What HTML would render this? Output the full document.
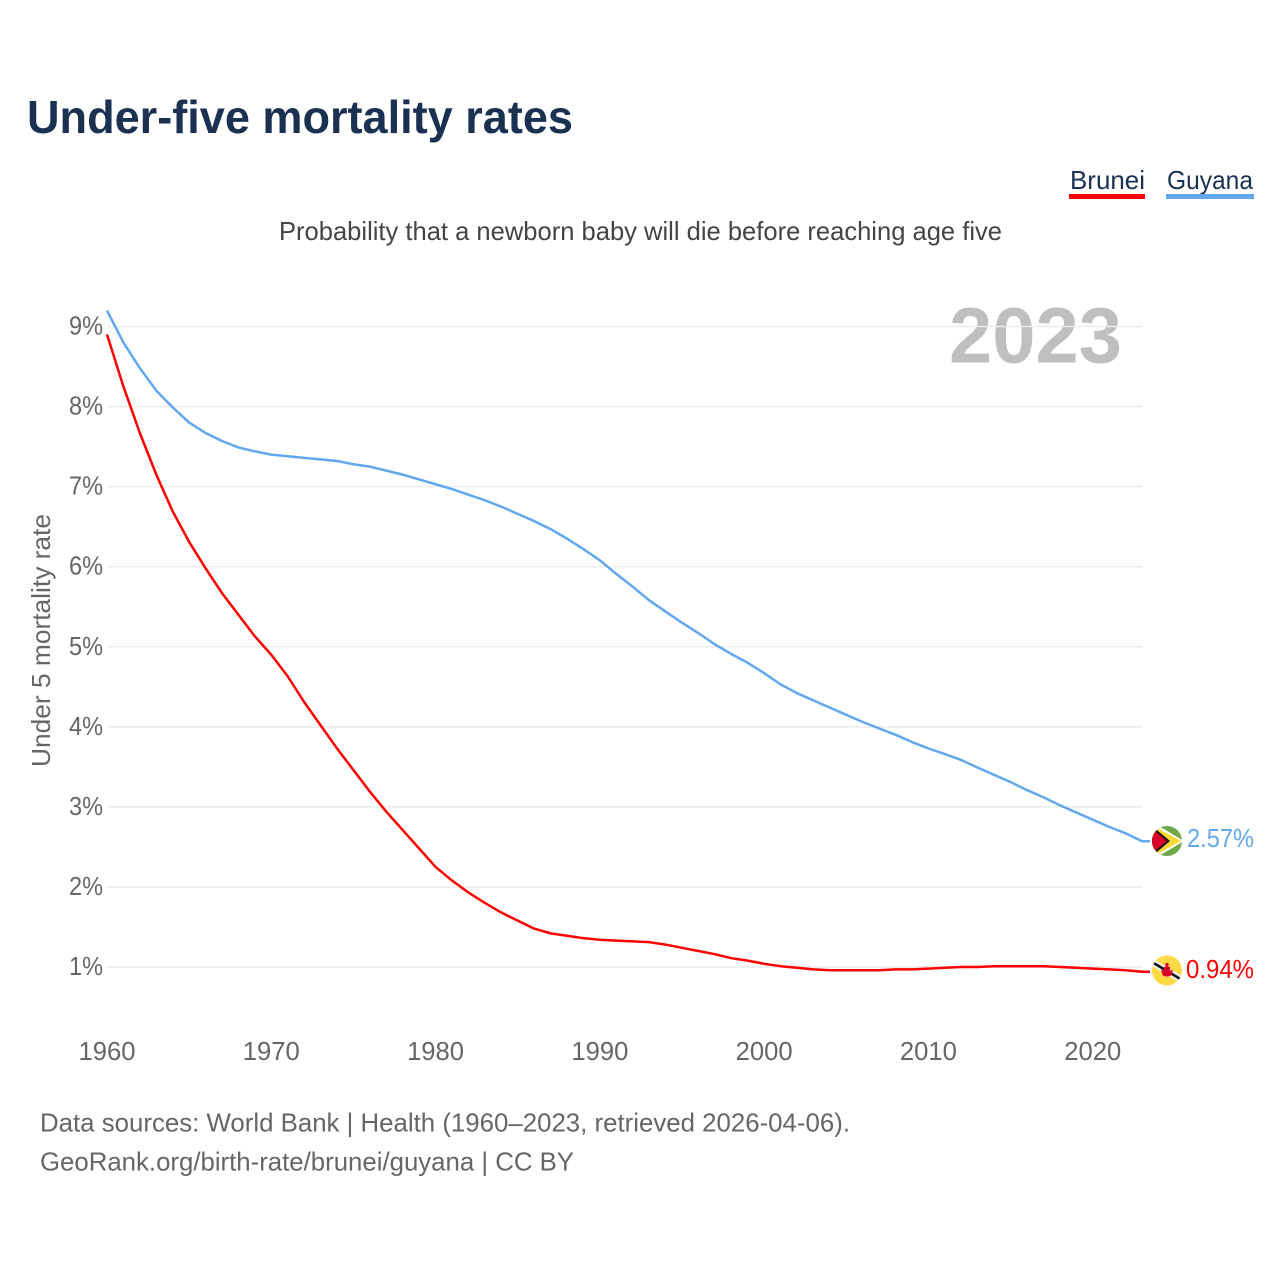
<!DOCTYPE html>
<html lang="en">
<head>
<meta charset="utf-8">
<title>Under-five mortality rates</title>
<style>
html,body{margin:0;padding:0;background:#fff;width:1280px;height:1280px;overflow:hidden}
svg{display:block}
text{font-family:"Liberation Sans",sans-serif}
</style>
</head>
<body>
<svg id="chart" width="1280" height="1280" viewBox="0 0 1280 1280" xmlns="http://www.w3.org/2000/svg">
<defs>
<clipPath id="flag-clip-g"><circle cx="1167" cy="841" r="15"/></clipPath>
<clipPath id="flag-clip-b"><circle cx="1167" cy="970.5" r="15"/></clipPath>
</defs>
<text x="27" y="133" font-size="46" font-weight="700" fill="#1a3152" textLength="546" lengthAdjust="spacingAndGlyphs">Under-five mortality rates</text>
<g>
<text x="1070" y="189" font-size="26" fill="#1a3152" textLength="75" lengthAdjust="spacingAndGlyphs">Brunei</text>
<rect x="1069" y="194" width="76" height="5" fill="#ff0000"/>
</g>
<g>
<text x="1167" y="189" font-size="26" fill="#1a3152" textLength="86" lengthAdjust="spacingAndGlyphs">Guyana</text>
<rect x="1166" y="194" width="88" height="5" fill="#62a8ef"/>
</g>
<text x="279" y="240" font-size="26" fill="#444" textLength="723" lengthAdjust="spacingAndGlyphs">Probability that a newborn baby will die before reaching age five</text>
<text x="949" y="362.5" font-size="79" font-weight="700" fill="#000" fill-opacity="0.25" textLength="173" lengthAdjust="spacingAndGlyphs">2023</text>
<g id="grid"></g>
<g id="y-ticks"></g>
<g id="x-ticks"></g>
<text transform="translate(50,767) rotate(-90)" font-size="26" fill="#666" textLength="253" lengthAdjust="spacingAndGlyphs">Under 5 mortality rate</text>
<g id="series"></g>
<g clip-path="url(#flag-clip-g)">
<rect x="1152" y="826" width="30" height="30" fill="#6fa84a"/>
<polygon points="1152,822 1184,841 1152,860" fill="#fff"/>
<polygon points="1152,825 1181,841 1152,857" fill="#fdd835"/>
<polygon points="1152,826 1170,841 1152,856" fill="#111"/>
<polygon points="1150,827 1167,841 1150,855" fill="#d80027"/>
</g>
<g clip-path="url(#flag-clip-b)">
<rect x="1152" y="955" width="30" height="31" fill="#ffda44"/>
<polygon points="1152,958 1182,976 1182,984 1152,966" fill="#f0f0f0"/>
<polygon points="1152,960.5 1182,978.5 1182,981.5 1152,963.5" fill="#111"/>
<path d="M1165.5 963h3v4h1.5v4l3-1.5-1.5 5.5c-2 2-7 2-9 0l-1.5-5.5 3 1.5v-4h1.5z" fill="#d80027"/>
</g>
<text x="1187" y="847" font-size="26" fill="#62a8ef" textLength="67" lengthAdjust="spacingAndGlyphs">2.57%</text>
<text x="1186" y="978" font-size="26" fill="#ff0000" textLength="68" lengthAdjust="spacingAndGlyphs">0.94%</text>
<text x="40" y="1131.5" font-size="26" fill="#666" textLength="810" lengthAdjust="spacingAndGlyphs">Data sources: World Bank | Health (1960–2023, retrieved 2026-04-06).</text>
<text x="40" y="1170.5" font-size="26" fill="#666" textLength="534" lengthAdjust="spacingAndGlyphs">GeoRank.org/birth-rate/brunei/guyana | CC BY</text>
</svg>
<script>
const startYear = 1960;
const yTickValues = [1, 2, 3, 4, 5, 6, 7, 8, 9];
const xTickYears = [1960, 1970, 1980, 1990, 2000, 2010, 2020];
const guyanaValues = [9.2,8.8,8.48,8.2,7.99,7.8,7.67,7.57,7.49,7.44,7.4,7.38,7.36,7.34,7.32,7.28,7.25,7.2,7.15,7.09,7.03,6.97,6.9,6.83,6.75,6.66,6.57,6.47,6.35,6.22,6.08,5.91,5.75,5.58,5.44,5.3,5.17,5.03,4.91,4.8,4.67,4.53,4.42,4.33,4.24,4.15,4.06,3.98,3.9,3.81,3.73,3.66,3.585,3.49,3.4,3.31,3.21,3.12,3.02,2.93,2.84,2.75,2.67,2.57];
const bruneiValues = [8.9,8.25,7.67,7.15,6.69,6.31,5.98,5.67,5.4,5.13,4.9,4.63,4.31,4.02,3.73,3.46,3.19,2.94,2.71,2.48,2.25,2.08,1.93,1.8,1.68,1.58,1.48,1.42,1.39,1.36,1.34,1.33,1.32,1.31,1.28,1.24,1.2,1.16,1.11,1.08,1.04,1.01,0.99,0.97,0.96,0.96,0.96,0.96,0.97,0.97,0.98,0.99,1.0,1.0,1.01,1.01,1.01,1.01,1.0,0.99,0.98,0.97,0.96,0.94];

const NS = 'http://www.w3.org/2000/svg';
const xScale = function (year) { return 107 + (year - 1960) * (1142 - 107) / 63; };
const yScale = function (v) { return 967 - (v - 1) * 80.06; };

const grid = document.getElementById('grid');
const yTicks = document.getElementById('y-ticks');
const xTicks = document.getElementById('x-ticks');
const seriesGroup = document.getElementById('series');

yTickValues.forEach(function (v) {
  const line = document.createElementNS(NS, 'line');
  
  
  line.setAttribute('x1', 107);
  line.setAttribute('x2', 1142);
  line.setAttribute('y1', yScale(v));
  line.setAttribute('y2', yScale(v));
  line.setAttribute('stroke', '#ececec');
  line.setAttribute('stroke-width', 1.5);
  grid.appendChild(line);

  const label = document.createElementNS(NS, 'text');
  
  
  label.setAttribute('x', 69);
  label.setAttribute('y', yScale(v) + 8);
  label.setAttribute('font-size', 26);
  label.setAttribute('fill', '#666');
  label.setAttribute('textLength', 34);
  label.setAttribute('lengthAdjust', 'spacingAndGlyphs');
  label.textContent = v + '%';
  yTicks.appendChild(label);
});

xTickYears.forEach(function (year) {
  const label = document.createElementNS(NS, 'text');
  
  
  label.setAttribute('x', xScale(year) - 28.5);
  label.setAttribute('y', 1060);
  label.setAttribute('font-size', 26);
  label.setAttribute('fill', '#666');
  label.setAttribute('textLength', 57);
  label.setAttribute('lengthAdjust', 'spacingAndGlyphs');
  label.textContent = year;
  xTicks.appendChild(label);
});

function linePoints(values) {
  return values.map(function (v, i) {
    return xScale(startYear + i).toFixed(2) + ',' + yScale(v).toFixed(2);
  });
}

const guyanaPoints = linePoints(guyanaValues);
const guyanaLine = document.createElementNS(NS, 'polyline');


guyanaLine.setAttribute('points', guyanaPoints.join(' ') + ' 1150,' + yScale(guyanaValues[guyanaValues.length - 1]).toFixed(2));
guyanaLine.setAttribute('fill', 'none');
guyanaLine.setAttribute('stroke', '#62a8ef');
guyanaLine.setAttribute('stroke-width', 2.5);
guyanaLine.setAttribute('stroke-linejoin', 'round');
seriesGroup.appendChild(guyanaLine);

const bruneiPoints = linePoints(bruneiValues);
const bruneiLine = document.createElementNS(NS, 'polyline');


bruneiLine.setAttribute('points', bruneiPoints.join(' ') + ' 1150,' + yScale(bruneiValues[bruneiValues.length - 1]).toFixed(2));
bruneiLine.setAttribute('fill', 'none');
bruneiLine.setAttribute('stroke', '#ff0000');
bruneiLine.setAttribute('stroke-width', 2.5);
bruneiLine.setAttribute('stroke-linejoin', 'round');
seriesGroup.appendChild(bruneiLine);
</script>
</body>
</html>
